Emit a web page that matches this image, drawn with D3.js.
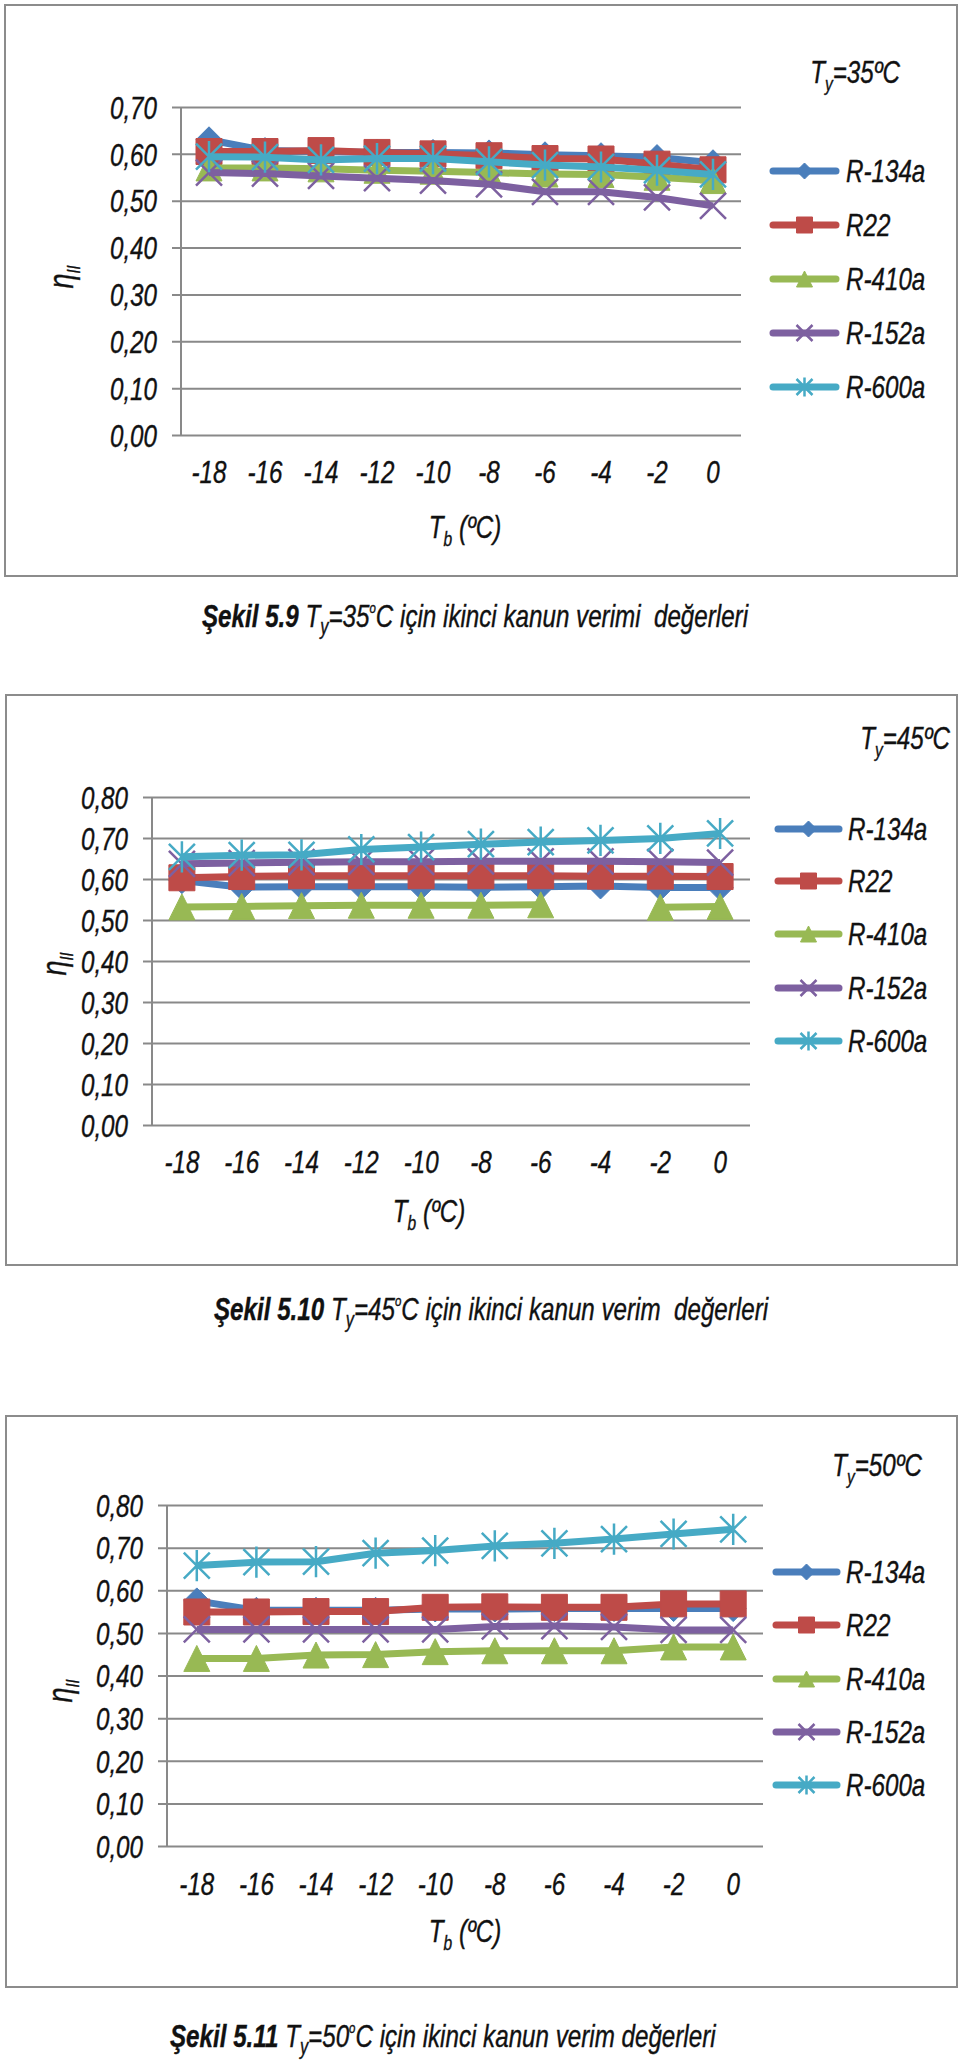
<!DOCTYPE html>
<html>
<head>
<meta charset="utf-8">
<script src="https://cdn.jsdelivr.net/npm/d3@7"></script>
<style>
body { margin: 0; background: #fff; }
svg text { font-family: "Liberation Sans", Arial, sans-serif; font-style: italic; fill: #111; stroke: #111; stroke-width: 0.35px; }
</style>
</head>
<body>
<svg id="fig" width="960" height="2062"></svg>
<script>
// evaporator temperatures (x categories)
const tb_labels = ["-18", "-16", "-14", "-12", "-10", "-8", "-6", "-4", "-2", "0"];
const series_names = ["R-134a", "R22", "R-410a", "R-152a", "R-600a"];

// Ty = 35 C
const r134a_35 = [0.630, 0.607, 0.605, 0.603, 0.603, 0.602, 0.598, 0.596, 0.592, 0.581];
const r22_35   = [0.605, 0.605, 0.607, 0.603, 0.600, 0.596, 0.590, 0.589, 0.578, 0.566];
const r410a_35 = [0.570, 0.570, 0.568, 0.565, 0.563, 0.560, 0.557, 0.556, 0.550, 0.543];
const r152a_35 = [0.560, 0.558, 0.553, 0.548, 0.543, 0.535, 0.519, 0.519, 0.507, 0.489];
const r600a_35 = [0.594, 0.593, 0.587, 0.590, 0.590, 0.583, 0.576, 0.572, 0.565, 0.556];

// Ty = 45 C (R-410a has no point at -4)
const r134a_45 = [0.596, 0.580, 0.581, 0.581, 0.581, 0.580, 0.581, 0.583, 0.579, 0.579];
const r22_45   = [0.603, 0.606, 0.608, 0.608, 0.608, 0.608, 0.608, 0.607, 0.607, 0.606];
const r410a_45 = [0.532, 0.533, 0.535, 0.536, 0.536, 0.536, 0.537, null, 0.531, 0.533];
const r152a_45 = [0.637, 0.639, 0.641, 0.642, 0.642, 0.643, 0.643, 0.643, 0.642, 0.640];
const r600a_45 = [0.654, 0.658, 0.659, 0.672, 0.678, 0.685, 0.690, 0.694, 0.699, 0.711];

// Ty = 50 C
const r134a_50 = [0.575, 0.553, 0.553, 0.553, 0.556, 0.556, 0.557, 0.557, 0.557, 0.557];
const r22_50   = [0.549, 0.549, 0.550, 0.550, 0.560, 0.561, 0.560, 0.560, 0.568, 0.568];
const r410a_50 = [0.440, 0.440, 0.448, 0.449, 0.456, 0.458, 0.458, 0.458, 0.467, 0.467];
const r152a_50 = [0.508, 0.508, 0.508, 0.508, 0.508, 0.515, 0.516, 0.514, 0.507, 0.507];
const r600a_50 = [0.658, 0.666, 0.667, 0.687, 0.693, 0.704, 0.710, 0.720, 0.732, 0.743];

const y_ticks_35 = [0, 0.1, 0.2, 0.3, 0.4, 0.5, 0.6, 0.7];
const y_ticks_45 = [0, 0.1, 0.2, 0.3, 0.4, 0.5, 0.6, 0.7, 0.8];
const y_ticks_50 = [0, 0.1, 0.2, 0.3, 0.4, 0.5, 0.6, 0.7, 0.8];

const colors = ["#4a7ebb", "#be4b48", "#98b954", "#7d60a0", "#46aac5"];
const markers = ["diamond", "square", "triangle", "x", "star"];
const grid_col = "#898989";
const fs = 29.5;
const narrow = "scale(0.82,1.06)";   // fake Arial Narrow from Liberation Sans

function markerPath(type, s) {
    if (type == "diamond") return `M0,${-s}L${s},0L0,${s}L${-s},0Z`;
    if (type == "square") return `M${-s},${-s}H${s}V${s}H${-s}Z`;
    if (type == "triangle") return `M0,${-s}L${s},${s}L${-s},${s}Z`;
    if (type == "x") return `M${-s},${-s}L${s},${s}M${s},${-s}L${-s},${s}`;
    return `M${-s},${-s}L${s},${s}M${s},${-s}L${-s},${s}M0,${-s * 1.2}L0,${s * 1.2}`;
}

function drawMarker(g, type, color, x, y, s) {
    const filled = (type != "x" && type != "star");
    g.append("path")
        .attr("d", markerPath(type, s))
        .attr("transform", `translate(${x},${y})`)
        .attr("fill", filled ? color : "none")
        .attr("stroke", color)
        .attr("stroke-width", filled ? 1 : 2.5);
}

function drawChart(svg, c) {
    const g = svg.append("g");

    // outer frame
    g.append("rect")
        .attr("x", c.frame[0]).attr("y", c.frame[1])
        .attr("width", c.frame[2] - c.frame[0]).attr("height", c.frame[3] - c.frame[1])
        .attr("fill", "none").attr("stroke", "#8c8c8c").attr("stroke-width", 2);

    const x = d3.scaleBand().domain(tb_labels).range([c.x0, c.x1]);
    const y = d3.scaleLinear().domain([0, d3.max(c.ticks)]).range([c.yBot, c.yTop]);
    const w = c.x1 - c.x0;

    // y axis with gridlines
    const ya = g.append("g")
        .attr("transform", `translate(${c.x0},0)`)
        .call(d3.axisLeft(y)
            .tickValues(c.ticks)
            .tickFormat(d => d3.format(".2f")(d).replace(".", ","))
            .tickSizeInner(-w)
            .tickPadding(24));
    ya.attr("font-family", null).attr("font-size", null);
    ya.select(".domain").remove();
    ya.selectAll(".tick line").attr("x1", -9).attr("stroke", grid_col).attr("stroke-width", 2);
    ya.selectAll(".tick text")
        .attr("x", 0)
        .attr("dy", "0.36em")
        .attr("transform", `translate(-24,0) ${narrow}`)
        .style("font-size", fs + "px");
    g.append("line")
        .attr("x1", c.x0).attr("x2", c.x0)
        .attr("y1", c.yTop).attr("y2", c.yBot + 1)
        .attr("stroke", grid_col).attr("stroke-width", 2);

    // x axis labels
    const xa = g.append("g")
        .attr("transform", `translate(0,${c.yBot})`)
        .call(d3.axisBottom(x).tickSize(0));
    xa.attr("font-family", null).attr("font-size", null);
    xa.select(".domain").remove();
    xa.selectAll(".tick text")
        .attr("y", 0).attr("dy", "0.36em")
        .attr("transform", `translate(0,${c.xLabY - c.yBot}) ${narrow}`)
        .style("font-size", fs + "px");

    // series lines, then markers, in Excel order
    const line = d3.line()
        .defined(d => d.v != null)
        .x(d => x(d.k) + x.bandwidth() / 2)
        .y(d => y(d.v));
    c.series.forEach((vals, i) => {
        const pts = vals.map((v, j) => ({k: tb_labels[j], v: v}));
        g.append("path")
            .attr("d", line(pts))
            .attr("fill", "none")
            .attr("stroke", colors[i])
            .attr("stroke-width", 7)
            .attr("stroke-linejoin", "round");
        pts.filter(p => p.v != null).forEach(p => {
            drawMarker(g, markers[i], colors[i], x(p.k) + x.bandwidth() / 2, y(p.v), 13);
        });
    });

    // legend
    series_names.forEach((name, i) => {
        const ry = c.legRows[i];
        g.append("line")
            .attr("x1", c.legX[0] + 3).attr("x2", c.legX[1] - 3)
            .attr("y1", ry).attr("y2", ry)
            .attr("stroke", colors[i]).attr("stroke-width", 7)
            .attr("stroke-linecap", "round");
        drawMarker(g, markers[i], colors[i], (c.legX[0] + c.legX[1]) / 2, ry, 8);
        g.append("text")
            .attr("transform", `translate(${c.legX[2]},${ry}) ${narrow}`)
            .attr("dy", "0.36em")
            .style("font-size", fs + "px")
            .text(name);
    });

    // Ty label
    const ty = g.append("text")
        .attr("transform", `translate(${c.tyEnd},${c.tyY}) ${narrow}`)
        .attr("text-anchor", "end")
        .attr("dy", "0.36em")
        .style("font-size", fs + "px");
    ty.append("tspan").text("T");
    ty.append("tspan").attr("dy", 7).style("font-size", "19px").text("y");
    ty.append("tspan").attr("dy", -7).text("=" + c.ty + "ºC");

    // x title
    const xt = g.append("text")
        .attr("transform", `translate(${c.xTitle[0]},${c.xTitle[1]}) ${narrow}`)
        .attr("text-anchor", "middle")
        .attr("dy", "0.36em")
        .style("font-size", fs + "px");
    xt.append("tspan").text("T");
    xt.append("tspan").attr("dy", 7).style("font-size", "19px").text("b");
    xt.append("tspan").attr("dy", -7).text(" (ºC)");

    // y title
    const yt = g.append("text")
        .attr("transform", `translate(${c.yTitle[0]},${c.yTitle[1]}) rotate(-90) ${narrow}`)
        .attr("text-anchor", "middle")
        .attr("dy", "0.3em")
        .style("font-size", "33px");
    yt.append("tspan").text("η");
    yt.append("tspan").attr("dy", 7).style("font-size", "18px").text("II");

    // caption under the frame
    const cap = g.append("text")
        .attr("transform", `translate(${c.capX},${c.capY}) ${narrow}`)
        .attr("dy", "0.36em")
        .style("font-size", fs + "px")
        .style("white-space", "pre");
    cap.append("tspan").style("font-weight", "bold").text("Şekil " + c.num);
    cap.append("tspan").text(" T");
    cap.append("tspan").attr("dy", 6).style("font-size", "20px").text("y");
    cap.append("tspan").attr("dy", -6).text("=" + c.ty);
    cap.append("tspan").attr("dy", -13).style("font-size", "14px").text("o");
    cap.append("tspan").attr("dy", 13).text(c.capTail);
}

const svg = d3.select("#fig");
svg.append("rect").attr("width", 960).attr("height", 2062).attr("fill", "#fff");

drawChart(svg, {
    frame: [5, 5, 957, 576], x0: 181, x1: 741, yTop: 107, yBot: 435, ticks: y_ticks_35,
    series: [r134a_35, r22_35, r410a_35, r152a_35, r600a_35],
    xLabY: 472, xTitle: [465, 527], yTitle: [62, 277],
    ty: "35", tyEnd: 900, tyY: 72,
    legX: [770, 839, 846], legRows: [171, 225, 279, 333, 387],
    num: "5.9", capX: 202, capY: 616, capTail: "C için ikinci kanun verimi  değerleri"
});
drawChart(svg, {
    frame: [6, 695, 957, 1265], x0: 152, x1: 750, yTop: 797, yBot: 1125, ticks: y_ticks_45,
    series: [r134a_45, r22_45, r410a_45, r152a_45, r600a_45],
    xLabY: 1162, xTitle: [429, 1211], yTitle: [55, 964],
    ty: "45", tyEnd: 950, tyY: 738,
    legX: [775, 842, 848], legRows: [829, 881, 934, 988, 1041],
    num: "5.10", capX: 214, capY: 1309, capTail: "C için ikinci kanun verim  değerleri"
});
drawChart(svg, {
    frame: [6, 1416, 957, 1987], x0: 167, x1: 763, yTop: 1505, yBot: 1846, ticks: y_ticks_50,
    series: [r134a_50, r22_50, r410a_50, r152a_50, r600a_50],
    xLabY: 1884, xTitle: [465, 1931], yTitle: [61, 1691],
    ty: "50", tyEnd: 922, tyY: 1465,
    legX: [773, 840, 846], legRows: [1572, 1625, 1679, 1732, 1785],
    num: "5.11", capX: 170, capY: 2036, capTail: "C için ikinci kanun verim değerleri"
});
</script>
</body>
</html>
